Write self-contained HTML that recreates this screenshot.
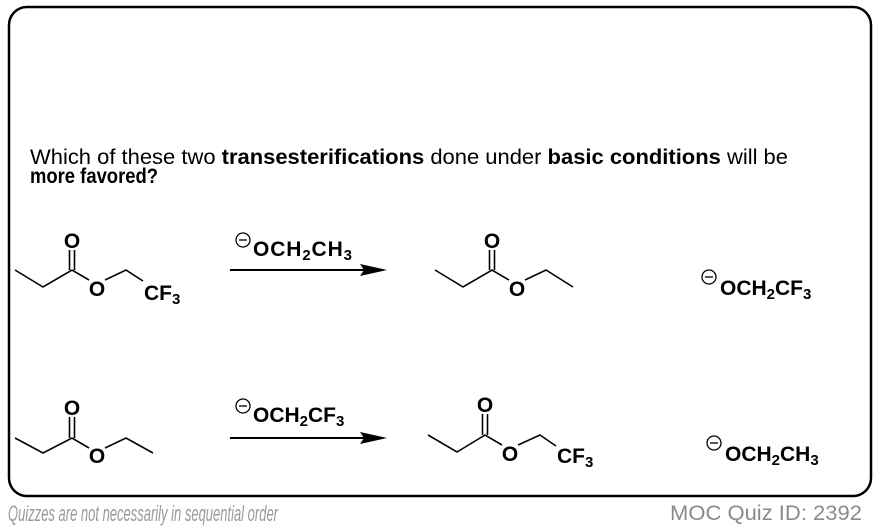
<!DOCTYPE html>
<html><head><meta charset="utf-8"><style>html,body{margin:0;padding:0;background:#fff}svg{display:block}</style></head>
<body>
<svg width="878" height="530" viewBox="0 0 878 530" xmlns="http://www.w3.org/2000/svg" font-family="Liberation Sans, Arial, sans-serif">
<rect x="9" y="7" width="862" height="489" rx="18" ry="18" fill="none" stroke="#000" stroke-width="2.5"/>
<text x="30" y="164" font-size="21" textLength="758" lengthAdjust="spacingAndGlyphs">Which of these two <tspan font-weight="bold">transesterifications</tspan> done under <tspan font-weight="bold">basic conditions</tspan> will be</text>
<text x="30" y="183" font-size="21" font-weight="bold" textLength="128" lengthAdjust="spacingAndGlyphs">more favored?</text>

<g stroke="#000" stroke-width="1.6" fill="none">
<polyline points="15,270 43,287 72,270 89,280"/>
<line x1="69.5" y1="270" x2="69.5" y2="250"/><line x1="74.5" y1="270" x2="74.5" y2="250"/>
<polyline points="105,280 126,270 143,281"/>
<polyline points="435,270 463,287 492,270 509,280"/>
<line x1="489.5" y1="270" x2="489.5" y2="250"/><line x1="494.5" y1="270" x2="494.5" y2="250"/>
<polyline points="525,280 546,270 573,287"/>
<polyline points="15,438 43,453 72,438 89,448"/>
<line x1="69.5" y1="438" x2="69.5" y2="417"/><line x1="74.5" y1="438" x2="74.5" y2="417"/>
<polyline points="105,448 126,438 153,453"/>
<polyline points="428,435 457,452 485,435 502,445"/>
<line x1="482.5" y1="435" x2="482.5" y2="414"/><line x1="487.5" y1="435" x2="487.5" y2="414"/>
<polyline points="518,445 540,435 556,446"/>
<line x1="230" y1="270" x2="372" y2="270" stroke-width="2"/>
<line x1="230" y1="438" x2="372" y2="438" stroke-width="2"/>
</g>
<polygon points="387,270 360,264 364,270 360,276" fill="#000"/>
<polygon points="387,438 360,432 364,438 360,444" fill="#000"/>

<g font-weight="bold" font-size="21" fill="#000" text-anchor="middle">
<text x="72" y="248">O</text>
<text x="97" y="296">O</text>
<text x="492" y="248">O</text>
<text x="517" y="296">O</text>
<text x="72" y="415">O</text>
<text x="97" y="463">O</text>
<text x="485" y="412">O</text>
<text x="510" y="461">O</text>
</g>
<g font-weight="bold" font-size="21" fill="#000">
<text x="144" y="300">CF<tspan font-size="15" dy="4">3</tspan></text>
<text x="557" y="463">CF<tspan font-size="15" dy="4">3</tspan></text>
<text x="253" y="256" textLength="99">OCH<tspan font-size="15" dy="4">2</tspan><tspan dy="-4">CH</tspan><tspan font-size="15" dy="4">3</tspan></text>
<text x="253" y="422">OCH<tspan font-size="15" dy="4">2</tspan><tspan dy="-4">CF</tspan><tspan font-size="15" dy="4">3</tspan></text>
<text x="720" y="295">OCH<tspan font-size="15" dy="4">2</tspan><tspan dy="-4">CF</tspan><tspan font-size="15" dy="4">3</tspan></text>
<text x="725" y="461">OCH<tspan font-size="15" dy="4">2</tspan><tspan dy="-4">CH</tspan><tspan font-size="15" dy="4">3</tspan></text>
</g>
<g fill="none" stroke="#000" stroke-width="1.3">
<circle cx="243" cy="240" r="7"/><line x1="239" y1="240" x2="247" y2="240"/>
<circle cx="243" cy="406" r="7"/><line x1="239" y1="406" x2="247" y2="406"/>
<circle cx="709" cy="277" r="7"/><line x1="705" y1="277" x2="713" y2="277"/>
<circle cx="714" cy="443" r="7"/><line x1="710" y1="443" x2="718" y2="443"/>
</g>

<text x="8" y="521" font-size="22" font-style="italic" fill="#9a9a9a" textLength="270" lengthAdjust="spacingAndGlyphs">Quizzes are not necessarily in sequential order</text>
<text x="670" y="520" font-size="21" fill="#8a8a8a" textLength="192" lengthAdjust="spacingAndGlyphs">MOC Quiz ID: 2392</text>
</svg>
</body></html>
